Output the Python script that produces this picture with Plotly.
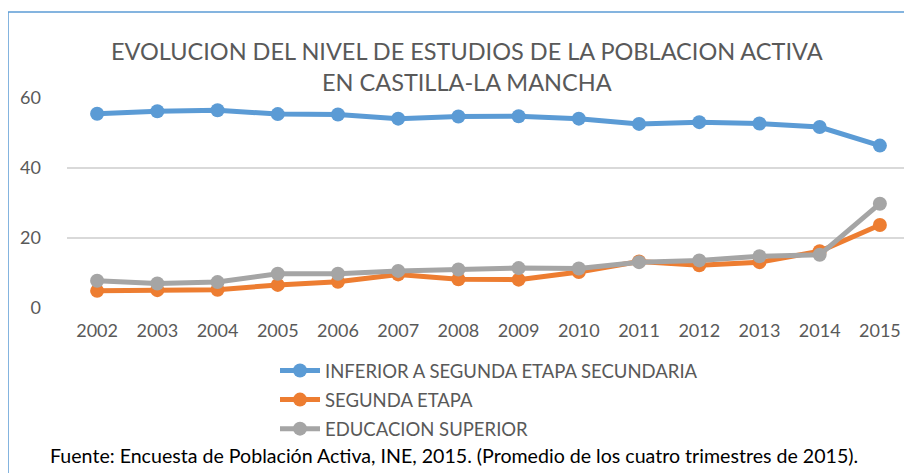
import plotly.graph_objects as go

anios = ['2002', '2003', '2004', '2005', '2006', '2007', '2008',
         '2009', '2010', '2011', '2012', '2013', '2014', '2015']
inferior = [55.5, 56.2, 56.5, 55.4, 55.3, 54.1, 54.7, 54.8, 54.1, 52.6, 53.1, 52.7, 51.7, 46.4]
segunda = [4.9, 5.1, 5.2, 6.6, 7.5, 9.6, 8.2, 8.1, 10.3, 13.3, 12.2, 13.1, 16.2, 23.7]
superior = [7.8, 7.0, 7.4, 9.8, 9.8, 10.6, 11.0, 11.4, 11.3, 13.1, 13.6, 14.8, 15.2, 29.8]

series = [
    ('INFERIOR A SEGUNDA ETAPA SECUNDARIA', inferior, '#5B9BD5'),
    ('SEGUNDA ETAPA', segunda, '#ED7D31'),
    ('EDUCACION SUPERIOR', superior, '#A5A5A5'),
]

fuente = 'Lato'
gris = '#595959'

fig = go.Figure()
for i, (nombre, valores, color) in enumerate(series):
    fig.add_trace(go.Scatter(
        x=anios, y=valores, name=nombre, mode='lines+markers',
        legendgroup='g%d' % i,
        line=dict(color=color, width=5),
        marker=dict(color=color, size=14),
        cliponaxis=False,
    ))

# la pagina tiene 8px de margen en el body, todo se corre 8px
off = 8
W, H = 912 - off, 473 - off
L, R, T, B = 67 - off, 2, 98 - off, 473 - 308
pw, ph = W - L - R, H - T - B
px_x = lambda p: (p - off - L) / pw
px_y = lambda p: (H - B - (p - off)) / ph

# marco del grafico (solo se ven borde izquierdo y superior)
fig.add_shape(type='line', xref='paper', yref='paper',
              x0=px_x(8), x1=px_x(8), y0=px_y(12), y1=px_y(480),
              line=dict(color='#5B9BD5', width=1.5))
fig.add_shape(type='line', xref='paper', yref='paper',
              x0=px_x(8), x1=px_x(920), y0=px_y(12), y1=px_y(12),
              line=dict(color='#5B9BD5', width=1.5))

fig.add_annotation(
    text='EVOLUCION DEL NIVEL DE ESTUDIOS DE LA POBLACION ACTIVA<br>EN CASTILLA-LA MANCHA',
    xref='paper', yref='paper', x=px_x(467), y=px_y(66), showarrow=False,
    xanchor='center', yanchor='middle',
    font=dict(family=fuente, size=23.5, color=gris))

fig.add_annotation(
    text='Fuente: Encuesta de Población Activa, INE, 2015. (Promedio de los cuatro trimestres de 2015).',
    xref='paper', yref='paper', x=px_x(454), y=px_y(455), showarrow=False,
    xanchor='center', yanchor='middle',
    font=dict(family=fuente, size=19.6, color='black'))

fig.update_layout(
    width=W, height=H,
    margin=dict(l=L, r=R, t=T, b=B),
    paper_bgcolor='white', plot_bgcolor='white',
    font=dict(family=fuente, color=gris),
    showlegend=True,
    legend=dict(x=px_x(275), y=px_y(352), xanchor='left', yanchor='top',
                orientation='v', font=dict(size=18.5, color=gris),
                tracegroupgap=2, itemwidth=40, bgcolor='rgba(0,0,0,0)'),
)
fig.update_xaxes(type='category', range=[-0.5, 13.5], showgrid=False,
                 showline=False, zeroline=False, ticks='',
                 ticklabelstandoff=10,
                 tickfont=dict(size=18, color=gris))
fig.update_yaxes(range=[0, 60], tickvals=[0, 20, 40, 60], showgrid=True,
                 gridcolor='#D9D9D9', gridwidth=1.5, zeroline=False,
                 showline=False, ticks='', ticklabelstandoff=25,
                 tickfont=dict(size=18, color=gris))

fig.write_html('out.html')
